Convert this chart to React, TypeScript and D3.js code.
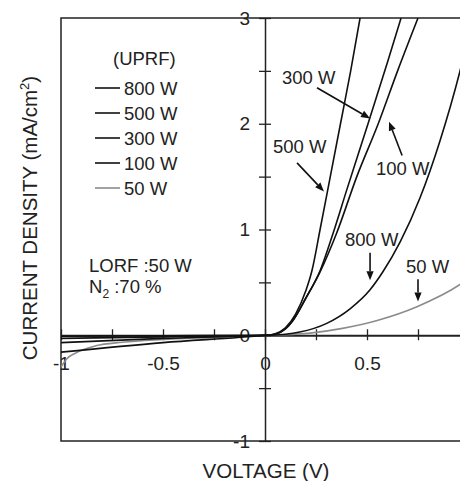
import React from 'react';
import * as d3 from 'd3';

// legend order (UPRF power)
const seriesNames = ['800 W', '500 W', '300 W', '100 W', '50 W'];
const seriesColors = ['#111', '#111', '#111', '#111', '#8c8c8c'];

// voltage (V) / current density (mA/cm2)
const v800 = [-1, -0.5, 0, 0.1, 0.17, 0.3, 0.417, 0.515, 0.578, 0.662, 0.76, 0.858, 0.956, 1.0];
const j800 = [-0.07, -0.03, 0, 0.01, 0.03, 0.11, 0.25, 0.43, 0.6, 0.88, 1.3, 1.84, 2.5, 2.85];
const v500 = [-1, -0.5, 0, 0.05, 0.1, 0.15, 0.2, 0.23, 0.27, 0.32, 0.37, 0.42, 0.466];
const j500 = [-0.01, -0.005, 0, 0.015, 0.07, 0.2, 0.42, 0.61, 1.0, 1.5, 2.0, 2.5, 3.0];
const v300 = [-1, -0.5, 0, 0.05, 0.1, 0.137, 0.2, 0.27, 0.333, 0.4, 0.505, 0.6, 0.667];
const j300 = [-0.03, -0.015, 0, 0.01, 0.06, 0.14, 0.35, 0.61, 0.96, 1.37, 2.0, 2.58, 3.0];
const v100 = [-1, -0.5, 0, 0.05, 0.1, 0.137, 0.2, 0.27, 0.35, 0.45, 0.555, 0.65, 0.75];
const j100 = [-0.16, -0.07, 0, 0.01, 0.06, 0.14, 0.35, 0.6, 0.96, 1.5, 2.0, 2.5, 3.0];
const v50 = [-1, -0.97, -0.93, -0.83, -0.7, -0.5, -0.25, 0, 0.1, 0.22, 0.38, 0.55, 0.745, 0.956, 1.0];
const j50 = [-0.3, -0.22, -0.17, -0.1, -0.066, -0.04, -0.02, 0, 0.005, 0.02, 0.065, 0.14, 0.27, 0.48, 0.54];

const seriesV = [v800, v500, v300, v100, v50];
const seriesJ = [j800, j500, j300, j100, j50];

const yTickValues = [-1, -0.5, 0, 0.5, 1, 1.5, 2, 2.5, 3];
const xTickValues = [-1, -0.75, -0.5, -0.25, 0, 0.25, 0.5, 0.75, 1];

// annotations: label anchor and arrow (tail -> head), in data units
const annLabels = ['300 W', '500 W', '100 W', '800 W', '50 W'];
const annText = [[0.083, 2.38], [0.039, 1.72], [0.544, 1.52], [0.392, 0.84], [0.691, 0.59]];
const annFrom = [[0.255, 2.34], [0.157, 1.63], [0.672, 1.7], [0.515, 0.78], [0.75, 0.53]];
const annTo = [[0.515, 2.05], [0.289, 1.36], [0.608, 2.02], [0.515, 0.52], [0.75, 0.32]];

const W = 460, H = 481;
const FONT = "Helvetica, Arial, 'Liberation Sans', sans-serif";

function draw(svgEl) {
    const svg = d3.select(svgEl);
    svg.selectAll('*').remove();

    const left = 61, right = 469, top = 18, bottom = 441;
    const x = d3.scaleLinear([-1, 1], [left, right]);
    const y = d3.scaleLinear([-1, 3], [bottom, top]);

    svg.append('defs').append('clipPath').attr('id', 'plot')
        .append('rect').attr('x', left).attr('y', top)
        .attr('width', right - left).attr('height', bottom - top);

    // frame
    svg.append('rect')
        .attr('x', left).attr('y', top)
        .attr('width', right - left).attr('height', bottom - top)
        .attr('fill', 'none').attr('stroke', '#222').attr('stroke-width', 1.5);

    // y axis through V = 0
    const yAxis = d3.axisLeft(y).tickValues(yTickValues)
        .tickSize(0).tickPadding(15)
        .tickFormat(d => Number.isInteger(d) ? String(d) : '');
    svg.append('g')
        .attr('transform', `translate(${x(0)},0)`)
        .call(yAxis)
        .call(g => g.select('.domain').attr('stroke', '#222').attr('stroke-width', 1.5))
        .call(g => g.selectAll('.tick line').attr('x1', -6).attr('x2', 6)
            .attr('stroke', '#222').attr('stroke-width', 1.3))
        .call(g => g.selectAll('.tick text').attr('font-family', FONT)
            .attr('font-size', 19).attr('fill', '#222'));

    // x axis through J = 0
    const xAxis = d3.axisBottom(x).tickValues(xTickValues)
        .tickSize(0).tickPadding(21)
        .tickFormat(d => (d * 2) % 1 === 0 ? String(d) : '');
    svg.append('g')
        .attr('transform', `translate(0,${y(0)})`)
        .call(xAxis)
        .call(g => g.select('.domain').attr('stroke', '#222').attr('stroke-width', 2))
        .call(g => g.selectAll('.tick line').attr('y1', -6).attr('y2', 5)
            .attr('stroke', '#222').attr('stroke-width', 1.3))
        .call(g => g.selectAll('.tick text').attr('font-family', FONT)
            .attr('font-size', 19).attr('fill', '#222'));

    // curves
    const line = d3.line()
        .x(d => x(d[0]))
        .y(d => y(d[1]))
        .curve(d3.curveMonotoneX);
    svg.append('g').attr('clip-path', 'url(#plot)')
        .selectAll('path')
        .data(seriesNames.map((_, i) => i).reverse())
        .join('path')
        .attr('fill', 'none')
        .attr('stroke', i => seriesColors[i])
        .attr('stroke-width', 1.6)
        .attr('d', i => line(seriesV[i].map((v, k) => [v, seriesJ[i][k]])));

    // axis titles
    svg.append('text')
        .attr('x', 266).attr('y', 478)
        .attr('text-anchor', 'middle')
        .attr('font-family', FONT).attr('font-size', 20.5).attr('fill', '#222')
        .text('VOLTAGE (V)');
    const yt = svg.append('text')
        .attr('transform', 'translate(37,218) rotate(-90)')
        .attr('text-anchor', 'middle')
        .attr('font-family', FONT).attr('font-size', 20.5).attr('fill', '#222');
    yt.append('tspan').text('CURRENT DENSITY (mA/cm');
    yt.append('tspan').attr('font-size', 13).attr('dy', -8).text('2');
    yt.append('tspan').attr('dy', 8).text(')');

    // legend
    const legend = svg.append('g').attr('font-family', FONT).attr('font-size', 18.5).attr('fill', '#222');
    legend.append('text').attr('x', 113).attr('y', 65).text('(UPRF)');
    const rows = legend.selectAll('g.row')
        .data(seriesNames)
        .join('g')
        .attr('class', 'row')
        .attr('transform', (_, i) => `translate(0,${88 + i * 25})`);
    rows.append('line')
        .attr('x1', 95).attr('x2', 120)
        .attr('stroke', (_, i) => seriesColors[i])
        .attr('stroke-width', 1.6);
    rows.append('text')
        .attr('x', 124).attr('y', 6.5)
        .text(d => d);

    // condition text
    const cond = svg.append('g').attr('font-family', FONT).attr('font-size', 18.5).attr('fill', '#222');
    cond.append('text').attr('x', 89).attr('y', 272).text('LORF :50 W');
    const n2 = cond.append('text').attr('x', 89).attr('y', 293);
    n2.append('tspan').text('N');
    n2.append('tspan').attr('font-size', 12).attr('dy', 5).text('2');
    n2.append('tspan').attr('dy', -5).text(' :70 %');

    // annotations
    const ann = svg.append('g').attr('font-family', FONT).attr('font-size', 18.5).attr('fill', '#222');
    annLabels.forEach((label, i) => {
        ann.append('text')
            .attr('x', x(annText[i][0])).attr('y', y(annText[i][1]))
            .text(label);
        const x1 = x(annFrom[i][0]), y1 = y(annFrom[i][1]);
        const x2 = x(annTo[i][0]), y2 = y(annTo[i][1]);
        const ang = Math.atan2(y2 - y1, x2 - x1);
        const hl = 9, hw = 3.6;
        const bx = x2 - hl * Math.cos(ang), by = y2 - hl * Math.sin(ang);
        ann.append('line')
            .attr('x1', x1).attr('y1', y1).attr('x2', bx).attr('y2', by)
            .attr('stroke', '#111').attr('stroke-width', 1.6);
        const px = -Math.sin(ang) * hw, py = Math.cos(ang) * hw;
        ann.append('path')
            .attr('d', `M${x2},${y2}L${bx + px},${by + py}L${bx - px},${by - py}Z`)
            .attr('fill', '#111');
    });
}

export default function App() {
    const ref = React.useRef(null);
    React.useEffect(() => {
        draw(ref.current);
    }, []);
    return (
        <svg
            ref={ref}
            width={W}
            height={H}
            viewBox={`0 0 ${W} ${H}`}
            style={{ position: 'absolute', left: 0, top: 0, background: '#fff' }}
        />
    );
}
